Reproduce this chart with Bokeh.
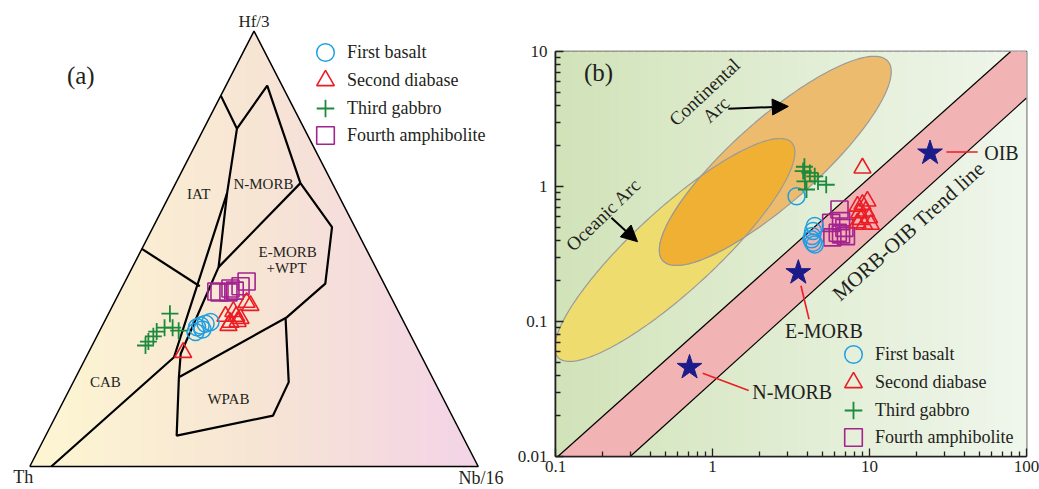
import numpy as np
from bokeh.plotting import figure
from bokeh.models import (Range1d, Label, Legend, LegendItem, Arrow, NormalHead,
                          FixedTicker, CustomJSTickFormatter)
from bokeh.layouts import row
from bokeh.embed import file_html
from bokeh.resources import INLINE

FONT = "Liberation Serif"
TXT = "#231f20"
C_BASALT, C_DIABASE, C_GABBRO, C_AMPH = "#1d9fe3", "#ec1c24", "#1b8a3c", "#a3238f"
series_labels = ["First basalt", "Second diabase", "Third gabbro", "Fourth amphibolite"]

# ---------------- (a) Th - Hf/3 - Nb/16 compositions (percent) ----------------
a_basalt_th = [46.7, 45.7, 45.8, 43.1, 44.4, 47.6]
a_basalt_hf = [32.0, 32.4, 31.5, 33.2, 32.8, 30.9]
a_basalt_nb = [21.3, 21.9, 22.8, 23.7, 22.8, 21.5]

a_diabase_th = [52.7, 39.1, 36.8, 36.7, 38.7, 37.0, 32.3, 32.8, 39.5, 36.0]
a_diabase_hf = [26.2, 34.5, 35.6, 34.5, 33.1, 33.3, 37.0, 37.7, 32.4, 34.0]
a_diabase_nb = [21.1, 26.4, 27.6, 28.8, 28.2, 29.7, 30.7, 29.5, 28.1, 30.0]

a_gabbro_th = [51.2, 52.2, 51.2, 54.0, 56.2, 57.5, 59.2, 60.3]
a_gabbro_hf = [35.1, 31.9, 31.2, 31.9, 31.0, 29.9, 28.7, 27.8]
a_gabbro_nb = [13.7, 15.9, 17.6, 14.1, 12.8, 12.6, 12.1, 11.9]

a_amph_th = [38.3, 37.7, 34.8, 34.1, 32.3, 30.4, 35.7]
a_amph_hf = [40.2, 40.0, 40.9, 40.4, 41.4, 42.5, 40.0]
a_amph_nb = [21.5, 22.3, 24.3, 25.5, 26.3, 27.1, 24.3]

# field boundaries (Th, Hf/3, Nb/16) in percent
field_lines = [
    [(95.2, 0, 4.8), (55.3, 25.1, 19.6), (24.6, 62.8, 12.6), (15.0, 77.6, 7.4), (14.8, 85.2, 0)],
    [(15.0, 77.6, 7.4), (3.3, 87.5, 9.2), (7.1, 65.1, 27.8), (5.1, 55.0, 39.9),
     (13.1, 42.0, 44.9), (25.5, 34.3, 40.2), (56.5, 20.5, 23.0)],
    [(24.6, 62.8, 12.6), (35.0, 45.8, 19.2), (53.4, 25.9, 20.7), (56.5, 20.5, 23.0),
     (63.7, 7.1, 29.2), (39.9, 11.7, 48.4), (32.6, 19.4, 48.1), (26.0, 33.9, 40.1)],
    [(7.1, 65.1, 27.8), (35.0, 45.8, 19.2)],
    [(50.0, 50.0, 0.0), (41.4, 41.4, 17.2)],
]
field_names = ["IAT", "N-MORB", "E-MORB", "+WPT", "CAB", "WPAB"]
field_label_pos = [(31.0, 62.7, 6.3), (15.4, 65.0, 19.6), (17.9, 49.2, 32.9), (20.0, 45.5, 34.5),
                   (73.5, 19.3, 7.2), (47.9, 15.6, 36.5)]


def tern_xy(th, hf, nb):
    th, hf, nb = (np.asarray(v, dtype=float) for v in (th, hf, nb))
    s = th + hf + nb
    return (nb + 0.5 * hf) / s, hf / s


def lerp_colors(stops, n):
    pos = np.linspace(0, 1, len(stops))
    rgb = np.array([[int(c[i:i + 2], 16) for i in (1, 3, 5)] for c in stops], float)
    out = []
    for t in np.linspace(0, 1, n):
        c = [np.interp(t, pos, rgb[:, k]) for k in range(3)]
        out.append("#%02x%02x%02x" % tuple(int(round(v)) for v in c))
    return out


def add_legend(p, rends, locs):
    for lbl, r, loc in zip(series_labels, rends, locs):
        p.add_layout(Legend(items=[LegendItem(label=lbl, renderers=[r])], location=loc,
                            glyph_width=44, glyph_height=44, padding=0, margin=0, label_standoff=-4,
                            label_text_font=FONT, label_text_font_size="18px", label_text_color=TXT,
                            background_fill_alpha=0, border_line_alpha=0))


p1 = figure(width=510, height=489, x_range=Range1d(-0.06534, 1.0720), y_range=Range1d(-0.05284, 1.07053),
            x_axis_type=None, y_axis_type=None, output_backend="svg", toolbar_location=None,
            min_border=0, outline_line_color=None, frame_align=False)
p1.grid.visible = False

# triangle background gradient
n_strip = 60
edges = np.linspace(0, 1, n_strip + 1)
top = lambda x: 2 * x if x <= 0.5 else 2 * (1 - x)
xs, ys = [], []
for i in range(n_strip):
    x0, x1 = edges[i], edges[i + 1]
    xs.append([x0, x1, x1, x0])
    ys.append([0, 0, top(x1), top(x0)])
cols = lerp_colors(["#fdf6d2", "#f7e5d4", "#f3d4e6"], n_strip)
p1.patches(xs, ys, fill_color=cols, line_color=cols, line_width=1)

tx, ty = tern_xy([100, 0, 0, 100], [0, 100, 0, 0], [0, 0, 100, 0])
p1.line(tx, ty, line_color="black", line_width=1.5)
for ln in field_lines:
    th, hf, nb = zip(*ln)
    fx, fy = tern_xy(th, hf, nb)
    p1.line(fx, fy, line_color="black", line_width=2.2)

for name, pos in zip(field_names, field_label_pos):
    lx, ly = tern_xy(*pos)
    p1.add_layout(Label(x=float(lx), y=float(ly), text=name, text_font=FONT, text_font_size="15px",
                        text_color=TXT, text_align="center", text_baseline="middle"))

apex_names = ["Hf/3", "Th", "Nb/16"]
apex_comp = [(0, 100, 0), (100, 0, 0), (0, 0, 100)]
apex_shift = [(0.0, 0.0223), (-0.0147, -0.023), (0.006, -0.0253)]
apex_size = ["17px", "18px", "18px"]
for txt, pos, (ddx, ddy), fs in zip(apex_names, apex_comp, apex_shift, apex_size):
    vx, vy = tern_xy(*pos)
    p1.add_layout(Label(x=float(vx) + ddx, y=float(vy) + ddy, text=txt, text_font=FONT, text_font_size=fs,
                        text_color=TXT, text_align="center", text_baseline="middle"))
p1.add_layout(Label(x=0.1137, y=0.898, text="(a)", text_font=FONT, text_font_size="25px",
                    text_color=TXT, text_align="center", text_baseline="middle"))

bx, by = tern_xy(a_basalt_th, a_basalt_hf, a_basalt_nb)
dx_, dy_ = tern_xy(a_diabase_th, a_diabase_hf, a_diabase_nb)
gx, gy = tern_xy(a_gabbro_th, a_gabbro_hf, a_gabbro_nb)
mx, my = tern_xy(a_amph_th, a_amph_hf, a_amph_nb)
ra4 = p1.scatter(mx, my, marker="square", size=17, fill_alpha=0, line_color=C_AMPH, line_width=1.6)
ra2 = p1.scatter(dx_, dy_, marker="triangle", size=17, fill_alpha=0, line_color=C_DIABASE, line_width=1.6)
ra1 = p1.scatter(bx, by, marker="circle", size=17, fill_alpha=0, line_color=C_BASALT, line_width=1.5)
ra3 = p1.scatter(gx, gy, marker="cross", size=17, line_color=C_GABBRO, line_width=1.8)

add_legend(p1, [ra1, ra2, ra3, ra4], [(303, 415), (303, 387), (303, 359), (303, 332)])

# ---------------- (b) Th/Yb vs Nb/Yb ----------------
b_basalt_nbyb = [3.43, 4.48, 4.37, 4.31, 4.27, 4.37, 4.48]
b_basalt_thyb = [0.848, 0.509, 0.468, 0.430, 0.406, 0.383, 0.372]
b_diabase_nbyb = [9.02, 8.39, 9.02, 9.70, 8.60, 9.46, 8.81, 9.94, 9.25, 8.39, 10.2]
b_diabase_thyb = [1.37, 0.715, 0.736, 0.779, 0.638, 0.657, 0.570, 0.586, 0.524, 0.538, 0.524]
b_gabbro_nbyb = [3.85, 3.78, 4.17, 4.48, 3.88, 4.70, 5.30, 3.97]
b_gabbro_thyb = [1.40, 1.30, 1.26, 1.19, 1.09, 1.09, 1.03, 0.95]
b_amph_nbyb = [6.44, 5.70, 6.59, 6.92, 6.28, 7.08, 5.80, 6.59]
b_amph_thyb = [0.676, 0.538, 0.554, 0.494, 0.454, 0.429, 0.420, 0.442]

ref_names = ["N-MORB", "E-MORB", "OIB"]
ref_nbyb = [0.714, 3.52, 24.3]
ref_thyb = [0.0457, 0.230, 1.77]
ref_leader_nbyb = [(0.866, 1.70), (3.66, 4.12), (30.9, 48.9)]
ref_leader_thyb = [(0.0413, 0.0308), (0.184, 0.104), (1.80, 1.80)]
ref_label_nbyb = [1.79, 5.12, 53.8]
ref_label_thyb = [0.0299, 0.0853, 1.77]
ref_label_align = ["left", "center", "left"]

trend_upper_nbyb = [0.1035, 79.3]
trend_upper_thyb = [0.01, 10.0]
trend_lower_nbyb = [0.299, 100.0]
trend_lower_thyb = [0.01, 4.52]

# arc fields as ellipses in log10 space: centre x, centre y, semi-major, semi-minor, angle (deg)
oceanic_arc = (-0.24, -0.47, 1.09, 0.28, 47.5)
continental_arc = (0.40, 0.19, 1.03, 0.29, 46.6)

x_ticks = [0.1, 1, 10, 100]
y_ticks = [0.01, 0.1, 1, 10]

p2 = figure(width=529, height=489, x_axis_type="log", y_axis_type="log",
            x_range=Range1d(0.1, 100), y_range=Range1d(0.01, 10),
            output_backend="svg", toolbar_location=None, frame_align=False,
            min_border_left=45, min_border_right=13, min_border_top=51, min_border_bottom=33,
            outline_line_color=TXT, outline_line_width=1.6)
p2.grid.visible = False

# background gradient
nb_strip = 60
bedges = 10 ** np.linspace(-1, 2, nb_strip + 1)
bcols = lerp_colors(["#d1e3b9", "#e1edd3", "#eff6eb"], nb_strip)
p2.quad(left=bedges[:-1], right=bedges[1:], bottom=0.01, top=10, fill_color=bcols, line_color=bcols,
        line_width=1)

# MORB-OIB array band
band_x = trend_upper_nbyb + [100.0] + trend_lower_nbyb[::-1]
band_y = trend_upper_thyb + [10.0] + trend_lower_thyb[::-1]
p2.patch(band_x, band_y, fill_color="#f2b3b4", line_color=None)
p2.line(trend_upper_nbyb, trend_upper_thyb, line_color="black", line_width=1.2)
p2.line(trend_lower_nbyb, trend_lower_thyb, line_color="black", line_width=1.2)


def ellipse_pts(e, n=240):
    cx, cy, a, b, ang = e
    th = np.radians(ang)
    t = np.linspace(0, 2 * np.pi, n)
    x = cx + a * np.cos(th) * np.cos(t) - b * np.sin(th) * np.sin(t)
    y = cy + a * np.sin(th) * np.cos(t) + b * np.cos(th) * np.sin(t)
    return x, y


def inside(e, x, y):
    cx, cy, a, b, ang = e
    th = np.radians(ang)
    ddx, ddy = x - cx, y - cy
    u = (ddx * np.cos(th) + ddy * np.sin(th)) / a
    v = (-ddx * np.sin(th) + ddy * np.cos(th)) / b
    return u * u + v * v <= 1.0


ox, oy = ellipse_pts(oceanic_arc)
cx_, cy_ = ellipse_pts(continental_arc)
p2.patch(10 ** ox, 10 ** oy, fill_color="#efdc6e", line_color="#9a9a9a", line_width=1.2)
p2.patch(10 ** cx_, 10 ** cy_, fill_color="#ecbb6e", line_color="#9a9a9a", line_width=1.2)
m1 = inside(continental_arc, ox, oy)
m2 = inside(oceanic_arc, cx_, cy_)
ix = np.concatenate([ox[m1], cx_[m2]])
iy = np.concatenate([oy[m1], cy_[m2]])
order = np.argsort(np.arctan2(iy - iy.mean(), ix - ix.mean()))
p2.patch(10 ** ix[order], 10 ** iy[order], fill_color="#efb033", line_color="#9a9a9a", line_width=1.2)

for (x0, x1), (y0, y1) in zip(ref_leader_nbyb, ref_leader_thyb):
    p2.line([x0, x1], [y0, y1], line_color="#ee1c24", line_width=1.6)
p2.scatter(ref_nbyb, ref_thyb, marker="star", size=26, fill_color="#1b1b8a", line_color="#1b1b8a")
for name, x, y, al in zip(ref_names, ref_label_nbyb, ref_label_thyb, ref_label_align):
    p2.add_layout(Label(x=x, y=y, text=name, text_font=FONT, text_font_size="20px", text_color=TXT,
                        text_align=al, text_baseline="middle"))

rb4 = p2.scatter(b_amph_nbyb, b_amph_thyb, marker="square", size=17, fill_alpha=0, line_color=C_AMPH,
                 line_width=1.6)
rb2 = p2.scatter(b_diabase_nbyb, b_diabase_thyb, marker="triangle", size=17, fill_alpha=0,
                 line_color=C_DIABASE, line_width=1.6)
rb1 = p2.scatter(b_basalt_nbyb, b_basalt_thyb, marker="circle", size=17, fill_alpha=0, line_color=C_BASALT,
                 line_width=1.5)
rb3 = p2.scatter(b_gabbro_nbyb, b_gabbro_thyb, marker="cross", size=17, line_color=C_GABBRO, line_width=1.8)

for txt, x, y, ang, fs in [("Continental", 0.888, 5.0, 43, "19px"), ("Arc", 1.05, 3.71, 43, "19px"),
                           ("Oceanic Arc", 0.202, 0.621, 44, "19px"),
                           ("MORB-OIB Trend line", 17.7, 0.468, 42, "21px")]:
    p2.add_layout(Label(x=x, y=y, text=txt, angle=ang, angle_units="deg", text_font=FONT,
                        text_font_size=fs, text_color=TXT, text_align="center", text_baseline="middle"))
p2.add_layout(Label(x=0.152, y=7.0, text="(b)", text_font=FONT, text_font_size="25px", text_color=TXT,
                    text_align="left", text_baseline="middle"))

p2.add_layout(Arrow(end=NormalHead(size=16, fill_color="black", line_color="black"),
                    x_start=1.26, y_start=3.77, x_end=3.04, y_end=3.92, line_color="black", line_width=2))
p2.add_layout(Arrow(end=NormalHead(size=16, fill_color="black", line_color="black"),
                    x_start=0.227, y_start=0.586, x_end=0.333, y_end=0.390, line_color="black", line_width=2))

add_legend(p2, [rb1, rb2, rb3, rb4], [(276, 80), (276, 52), (276, 24), (276, -3)])

fmt = CustomJSTickFormatter(code="return tick.toString();")
p2.xaxis.ticker = FixedTicker(ticks=x_ticks,
                              minor_ticks=[m * 10.0 ** k for k in range(-1, 2) for m in range(2, 10)])
p2.yaxis.ticker = FixedTicker(ticks=y_ticks,
                              minor_ticks=[m * 10.0 ** k for k in range(-2, 1) for m in range(2, 10)])
for ax in (p2.xaxis[0], p2.yaxis[0]):
    ax.formatter = fmt
    ax.axis_line_color = TXT
    ax.axis_line_width = 1.6
    ax.major_tick_in = 8
    ax.major_tick_out = 0
    ax.minor_tick_in = 5
    ax.minor_tick_out = 0
    ax.major_tick_line_color = TXT
    ax.minor_tick_line_color = TXT
    ax.major_tick_line_width = 1.3
    ax.minor_tick_line_width = 1.3
    ax.major_label_text_font = FONT
    ax.major_label_text_font_size = "17px"
    ax.major_label_text_color = TXT
p2.xaxis.major_label_standoff = 4
p2.yaxis.major_label_standoff = 8

# axis titles placed just outside the frame
p2.add_layout(Label(x=3.18, y=-24, y_units="screen", text="Nb/Yb", text_font=FONT, text_font_size="18px",
                    text_color=TXT, text_align="center", text_baseline="middle"))
p2.add_layout(Label(x=-34, x_units="screen", y=0.316, text="Th/Yb", angle=90, angle_units="deg",
                    text_font=FONT, text_font_size="18px", text_color=TXT, text_align="center",
                    text_baseline="middle"))

layout = row(p1, p2)
open("out.html", "w").write(file_html(layout, INLINE))
